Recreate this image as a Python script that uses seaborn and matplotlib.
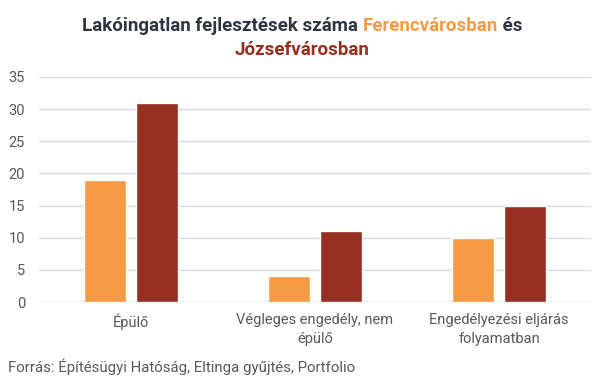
import matplotlib
matplotlib.use("Agg")
import matplotlib.pyplot as plt
import seaborn as sns
import pandas as pd

categories = ["Épülő", "Végleges engedély, nem\népülő", "Engedélyezési eljárás\nfolyamatban"]
ferencvaros = [19, 4, 10]
jozsefvaros = [31, 11, 15]
series_names = ["Ferencvárosban", "Józsefvárosban"]
yticks = [0, 5, 10, 15, 20, 25, 30, 35]

ORANGE = "#F59B45"
RED = "#963020"
DARK = "#303640"
GRAY = "#595959"

sns.set_theme(style="white")
plt.rcParams['font.family'] = ['Roboto', 'DejaVu Sans']

df = pd.DataFrame({
    "cat": categories * 2,
    "val": ferencvaros + jozsefvaros,
    "city": [series_names[0]] * 3 + [series_names[1]] * 3,
})

fig = plt.figure(figsize=(6.05, 3.79), dpi=100)
ax = fig.add_axes([39 / 605, (379 - 302) / 379, (591 - 39) / 605, (302 - 77) / 379])
sns.barplot(data=df, x="cat", y="val", hue="city", order=categories,
            hue_order=series_names, palette=[ORANGE, RED], width=0.565, gap=0.21,
            saturation=1, ax=ax, legend=False)

ax.set_ylim(0, 35)
ax.set_yticks(yticks)
ax.set_xlim(-0.5, 2.5)
ax.set_xlabel("")
ax.set_ylabel("")
for s in ["top", "right", "left", "bottom"]:
    ax.spines[s].set_visible(False)
ax.yaxis.grid(True, color="#d9d9d9", linewidth=1)
ax.set_axisbelow(True)
ax.axhline(0, color="#d9d9d9", linewidth=1, zorder=0.5)
ax.tick_params(axis="y", length=0, pad=10, labelsize=10.5, labelcolor=GRAY)
ax.tick_params(axis="x", length=0, labelbottom=False)

# category labels drawn on the x axis transform (data x, axes y)
for i, cat in enumerate(categories):
    ax.text(i, -(313 - 302) / 225, cat, transform=ax.get_xaxis_transform(),
            ha="center", va="top", multialignment="center",
            fontsize=10.5, color=GRAY, linespacing=1.45)

# multicolored title
renderer = fig.canvas.get_renderer()
W = 605.0
H = 379.0

def colored_line(pieces, y_px):
    texts = []
    widths = []
    for s, c in pieces:
        t = fig.text(0, 1 - y_px / H, s, color=c, fontsize=13.5, fontweight="bold",
                     ha="left", va="baseline")
        texts.append(t)
        widths.append(t.get_window_extent(renderer).width)
    total = sum(widths)
    x = (W - total) / 2
    for t, w in zip(texts, widths):
        t.set_x(x / W)
        x += w

colored_line([("Lakóingatlan fejlesztések száma ", DARK), ("Ferencvárosban", ORANGE), (" és", DARK)], 31)
colored_line([("Józsefvárosban", RED)], 55)

fig.text(8 / W, 1 - 372 / H, "Forrás: Építésügyi Hatóság, Eltinga gyűjtés, Portfolio",
         color=GRAY, fontsize=10.8, ha="left", va="baseline")

fig.savefig("out.png", dpi=100)
